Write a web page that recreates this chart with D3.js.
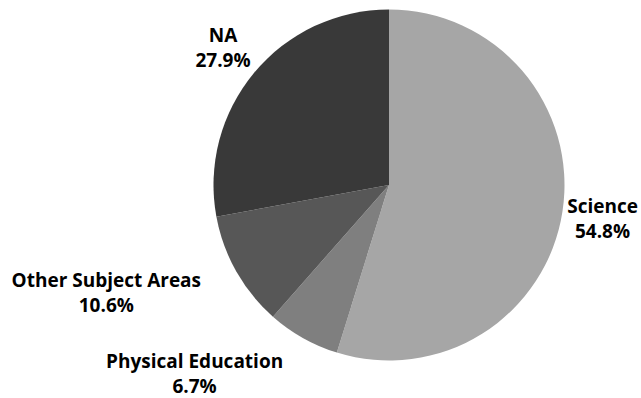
<!DOCTYPE html>
<html>
<head>
<meta charset="utf-8">
<script src="https://cdn.jsdelivr.net/npm/d3@7"></script>
<style>
  html, body { margin: 0; padding: 0; background: #ffffff; }
  svg { display: block; }
  text { font-family: "Open Sans", "Noto Sans", sans-serif; font-weight: 700; font-size: 19px; fill: #000; }
</style>
</head>
<body>
<svg id="chart" width="641" height="398"></svg>
<script>
// Share of records by subject area
const categories = ["Science", "Physical Education", "Other Subject Areas", "NA"];
const shares = [54.8, 6.7, 10.6, 27.9];
const sliceColors = ["#a6a6a6", "#7f7f7f", "#575757", "#393939"];

const width = 641, height = 398;
const cx = 389, cy = 185, radius = 175.5;
const labelRadius = 216;
const lineHeight = 25;

const svg = d3.select("#chart");
const g = svg.append("g").attr("transform", `translate(${cx},${cy})`);

const data = categories.map((c, i) => ({ name: c, value: shares[i], color: sliceColors[i] }));

const pie = d3.pie().value(d => d.value).sort(null);
const arc = d3.arc().innerRadius(0).outerRadius(radius);
const arcs = pie(data);

g.selectAll("path.slice")
  .data(arcs)
  .join("path")
  .attr("class", "slice")
  .attr("d", arc)
  .attr("fill", d => d.data.color);

// Labels: centred on the mid-angle at labelRadius; if the centred block would
// reach into the pie, anchor its inner edge at that point instead.
const labels = g.selectAll("g.label")
  .data(arcs)
  .join("g")
  .attr("class", "label");

labels.each(function(d) {
  const sel = d3.select(this);
  const mid = (d.startAngle + d.endAngle) / 2;
  const px = labelRadius * Math.sin(mid);
  const py = -labelRadius * Math.cos(mid);

  const t1 = sel.append("text").text(d.data.name);
  const t2 = sel.append("text").text(d3.format(".1f")(d.data.value) + "%");
  const w = Math.max(t1.node().getComputedTextLength(), t2.node().getComputedTextLength());
  const h = lineHeight * 2;

  // check whether the centred box intersects the circle
  const left = px - w / 2, right = px + w / 2, top = py - h / 2, bottom = py + h / 2;
  const nx = Math.max(left, Math.min(0, right));
  const ny = Math.max(top, Math.min(0, bottom));
  const overlaps = Math.hypot(nx, ny) < radius;

  let centerX = px;
  if (overlaps) centerX = px < 0 ? px - w / 2 : px + w / 2;

  t1.attr("text-anchor", "middle").attr("x", centerX).attr("y", py - lineHeight / 2).attr("dy", "0.4em");
  t2.attr("text-anchor", "middle").attr("x", centerX).attr("y", py + lineHeight / 2).attr("dy", "0.4em");
});
</script>
</body>
</html>
